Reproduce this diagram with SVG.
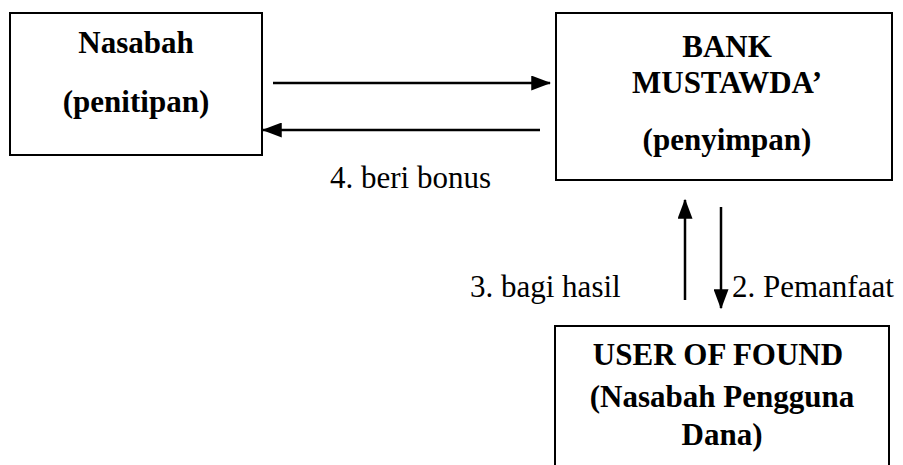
<svg xmlns="http://www.w3.org/2000/svg" width="903" height="465" viewBox="0 0 903 465">
<style>
.box{fill:#fff;stroke:#000;stroke-width:2}
.t{font-family:"Liberation Serif","Times New Roman",serif;font-size:31px;fill:#000}
.b{font-weight:bold;text-anchor:middle}
.ln{stroke:#000;stroke-width:2.5;fill:none}
</style>
<defs>
<marker id="ah" markerWidth="8" markerHeight="6" refX="7.5" refY="3" orient="auto" markerUnits="strokeWidth">
<path d="M0,0 L8,3 L0,6 Z" fill="#000"/>
</marker>
</defs>
<rect width="903" height="465" fill="#fff"/>
<g id="nasabah">
<rect class="box" x="10" y="13" width="252" height="142"/>
<text class="t b" x="136" y="53">Nasabah</text>
<text class="t b" x="136" y="112">(penitipan)</text>
</g>
<g id="bank">
<rect class="box" x="556" y="13" width="336" height="167"/>
<text class="t b" x="727" y="57">BANK</text>
<text class="t b" x="727" y="93">MUSTAWDA’</text>
<text class="t b" x="727" y="150">(penyimpan)</text>
</g>
<g id="user">
<path class="box" d="M555,475 V326 H889 V475"/>
<text class="t b" x="718" y="365">USER OF FOUND</text>
<text class="t b" x="722" y="407">(Nasabah Pengguna</text>
<text class="t b" x="722" y="445">Dana)</text>
</g>
<g id="connectors">
<line class="ln" x1="273" y1="83" x2="550" y2="83" marker-end="url(#ah)"/>
<line class="ln" x1="540" y1="130" x2="263" y2="130" marker-end="url(#ah)"/>
<line class="ln" x1="685" y1="300" x2="685" y2="200" marker-end="url(#ah)"/>
<line class="ln" x1="721" y1="207" x2="721" y2="308" marker-end="url(#ah)"/>
<text class="t" x="330" y="188">4. beri bonus</text>
<text class="t" x="470" y="297">3. bagi hasil</text>
<text class="t" x="732" y="297">2. Pemanfaat</text>
</g>
</svg>
